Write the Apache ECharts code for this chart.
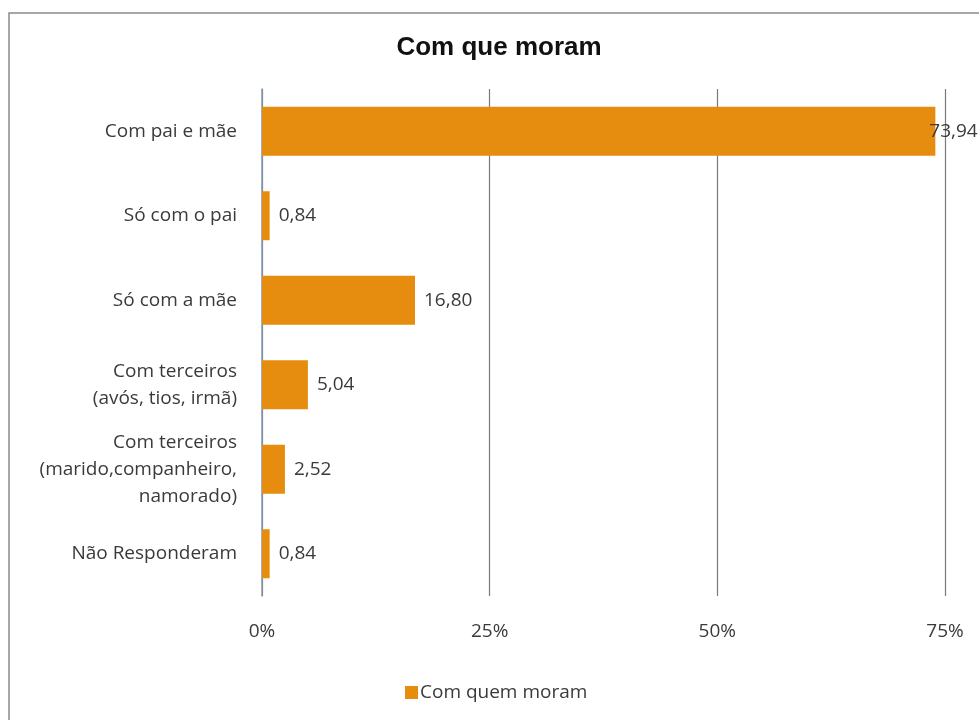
<!DOCTYPE html>
<html>
<head>
<meta charset="utf-8">
<script src="https://cdn.jsdelivr.net/npm/echarts@6/dist/echarts.min.js"></script>
<style>
  html, body { margin: 0; padding: 0; background: #fff; }
  #chart { width: 979px; height: 720px; }
</style>
</head>
<body>
<div id="chart"></div>
<script>
// Living arrangement of respondents (percent)
const chartTitle = 'Com que moram';
const seriesName = 'Com quem moram';
const categories = [
  'Com pai e mãe',
  'Só com o pai',
  'Só com a mãe',
  'Com terceiros\n(avós, tios, irmã)',
  'Com terceiros\n(marido,companheiro,\nnamorado)',
  'Não Responderam'
];
const values = [73.94, 0.84, 16.80, 5.04, 2.52, 0.84];
const axisMax = 75;
const axisStep = 25;

const font = '"Open Sans", sans-serif';
const barColor = '#E68C0E';
const textColor = '#3a3a3a';

const chart = echarts.init(document.getElementById('chart'), null, { renderer: 'canvas' });

// The longest bar has no room outside, so its label sits back over the bar end
const barData = values.map((v, i) => i === 0
  ? { value: v, label: { distance: -6 } }
  : v);

chart.setOption({
  backgroundColor: '#ffffff',
  animation: false,
  graphic: [{
    type: 'rect',
    shape: { x: 9, y: 13, width: 1000, height: 760 },
    style: { fill: 'none', stroke: '#8a8a8a', lineWidth: 1.5 },
    silent: true
  }],
  title: {
    text: chartTitle,
    left: 494,
    textAlign: 'center',
    top: 30,
    textStyle: {
      fontFamily: '"Liberation Sans", Arial, sans-serif',
      fontWeight: 'bold',
      fontSize: 26,
      color: '#111'
    }
  },
  legend: {
    data: [seriesName],
    left: 400,
    top: 678,
    icon: 'rect',
    itemWidth: 13,
    itemHeight: 13,
    itemGap: 10,
    textStyle: { fontFamily: font, fontSize: 19, color: textColor, padding: [0, 0, 0, -3] }
  },
  grid: {
    left: 262,
    top: 89,
    bottom: 124,
    right: 34,
    containLabel: false
  },
  xAxis: {
    type: 'value',
    min: 0,
    max: axisMax,
    interval: axisStep,
    axisLine: { show: false },
    axisTick: { show: false },
    axisLabel: {
      formatter: '{value}%',
      margin: 26,
      fontFamily: font,
      fontSize: 19,
      color: textColor
    },
    splitLine: { show: true, lineStyle: { color: '#7a7a7a', width: 1.2 } }
  },
  yAxis: {
    type: 'category',
    inverse: true,
    data: categories,
    axisLine: { show: true, lineStyle: { color: '#8497b0', width: 1.5 } },
    axisTick: { show: false },
    axisLabel: {
      margin: 25,
      fontFamily: font,
      fontSize: 19,
      lineHeight: 27,
      color: textColor,
      align: 'right'
    }
  },
  series: [{
    name: seriesName,
    type: 'bar',
    data: barData,
    barWidth: '58%',
    itemStyle: { color: barColor },
    label: {
      show: true,
      position: 'right',
      distance: 9,
      fontFamily: font,
      fontSize: 19,
      color: textColor,
      formatter: p => p.value.toFixed(2).replace('.', ',')
    }
  }]
});
</script>
</body>
</html>
